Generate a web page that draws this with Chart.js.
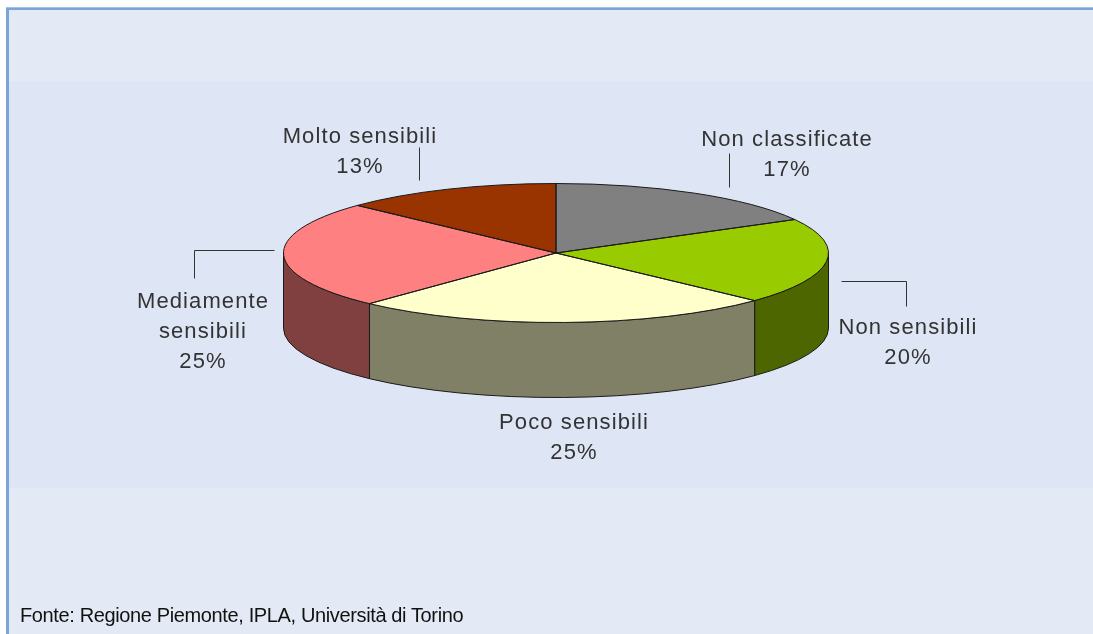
<!DOCTYPE html>
<html lang="it">
<head>
<meta charset="utf-8">
<title>Fonte: Regione Piemonte</title>
<script src="https://cdn.jsdelivr.net/npm/chart.js@4"></script>
<style>
html,body{margin:0;padding:0;background:#fff;width:1093px;height:634px;overflow:hidden}
#panel{position:absolute;left:6px;top:8px;width:1087px;height:626px;box-sizing:border-box;background:#e3eaf5;border-top:2px solid #7ba4da;border-left:3px solid #7ba4da;box-shadow:0 -1px 0 #a3c0e6}
#band{position:absolute;left:9px;top:81px;width:1084px;height:407px;background:#dee5f4}
#wrap{position:absolute;left:0;top:0;width:1093px;height:634px}
#note{position:absolute;left:20px;top:604px;font:20px "Liberation Sans",Arial,sans-serif;color:#111;letter-spacing:-0.37px;white-space:nowrap}
</style>
</head>
<body>
<div id="panel"></div>
<div id="band"></div>
<div id="wrap"><canvas id="c" width="1093" height="634"></canvas></div>
<div id="note">Fonte: Regione Piemonte, IPLA, Università di Torino</div>
<script>
const categories = ["Non classificate", "Non sensibili", "Poco sensibili", "Mediamente sensibili", "Molto sensibili"];
const values = [17, 20, 25, 25, 13];
const sliceColors = ["#808080", "#99cc00", "#ffffcc", "#ff8080", "#993300"];
const wallColors = ["#404040", "#4d6600", "#808066", "#804040", "#4d1a00"];

// Label layout (picture geometry, not data)
const labelLines = [["Non classificate"], ["Non sensibili"], ["Poco sensibili"], ["Mediamente", "sensibili"], ["Molto sensibili"]];
const labelCenterX = [787, 908, 574, 203, 360];
const labelFirstBaseline = [146, 334, 429, 308, 143];
const leaderPaths = [
  [[729, 153], [729, 187]],
  [[841, 281], [906, 281], [906, 306]],
  [],
  [[274, 250], [194, 250], [194, 278]],
  [[419, 147], [419, 180]]
];
const TILT_CY = 253, TILT_RY = 69.5, DEPTH = 75, LINE_STEP = 30;

function ellipseGeom(chart) {
  const a = chart.getDatasetMeta(0).data[0];
  const p = a.getProps(['x', 'y', 'outerRadius']);
  return {x: p.x, y: p.y, r: p.outerRadius};
}

const tiltedPie = {
  id: 'tiltedPie',
  beforeDatasetsDraw(chart) {
    const ctx = chart.ctx, g = ellipseGeom(chart), arcs = chart.getDatasetMeta(0).data;
    ctx.save();
    ctx.lineWidth = 1;
    ctx.strokeStyle = '#1a1a1a';
    arcs.forEach((arc, i) => {
      const p = arc.getProps(['startAngle', 'endAngle']);
      // keep only the part that faces the viewer: canvas angles 0..PI
      let best = null;
      [0, 2 * Math.PI, -2 * Math.PI].forEach(k => {
        const s = Math.max(p.startAngle + k, 0), e = Math.min(p.endAngle + k, Math.PI);
        if (e > s && (!best || e - s > best[1] - best[0])) best = [s, e];
      });
      if (!best) return;
      ctx.beginPath();
      ctx.ellipse(g.x, TILT_CY, g.r, TILT_RY, 0, best[0], best[1]);
      ctx.ellipse(g.x, TILT_CY + DEPTH, g.r, TILT_RY, 0, best[1], best[0], true);
      ctx.closePath();
      ctx.fillStyle = wallColors[i];
      ctx.fill();
      ctx.stroke();
    });
    ctx.restore();
    ctx.save();
    ctx.translate(0, TILT_CY);
    ctx.scale(1, TILT_RY / g.r);
    ctx.translate(0, -g.y);
  },
  afterDatasetsDraw(chart) {
    const ctx = chart.ctx, g = ellipseGeom(chart), arcs = chart.getDatasetMeta(0).data;
    ctx.restore();
    ctx.save();
    ctx.lineWidth = 1;
    ctx.strokeStyle = '#1a1a1a';
    arcs.forEach(arc => {
      const p = arc.getProps(['startAngle', 'endAngle']);
      ctx.beginPath();
      ctx.moveTo(g.x, TILT_CY);
      ctx.ellipse(g.x, TILT_CY, g.r, TILT_RY, 0, p.startAngle, p.endAngle);
      ctx.closePath();
      ctx.stroke();
    });
    // leader lines
    ctx.strokeStyle = '#333';
    leaderPaths.forEach(path => {
      if (!path.length) return;
      ctx.beginPath();
      path.forEach((pt, j) => j ? ctx.lineTo(pt[0] + .5, pt[1] + .5) : ctx.moveTo(pt[0] + .5, pt[1] + .5));
      ctx.stroke();
    });
    // labels
    ctx.fillStyle = '#333';
    ctx.font = '22px "Liberation Sans", Arial, sans-serif';
    ctx.letterSpacing = '1.1px';
    ctx.textAlign = 'center';
    ctx.textBaseline = 'alphabetic';
    categories.forEach((c, i) => {
      const lines = labelLines[i].concat([values[i] + '%']);
      lines.forEach((t, j) => ctx.fillText(t, labelCenterX[i], labelFirstBaseline[i] + j * LINE_STEP));
    });
    ctx.restore();
  }
};

new Chart(document.getElementById('c'), {
  type: 'pie',
  data: {
    labels: categories,
    datasets: [{data: values, backgroundColor: sliceColors, borderWidth: 0}]
  },
  options: {
    responsive: false,
    animation: false,
    events: [],
    rotation: 0,
    layout: {padding: {left: 283.5, right: 264.5, top: 44.5, bottom: 44.5}},
    plugins: {legend: {display: false}, tooltip: {enabled: false}, title: {display: false}}
  },
  plugins: [tiltedPie]
});
</script>
</body>
</html>
